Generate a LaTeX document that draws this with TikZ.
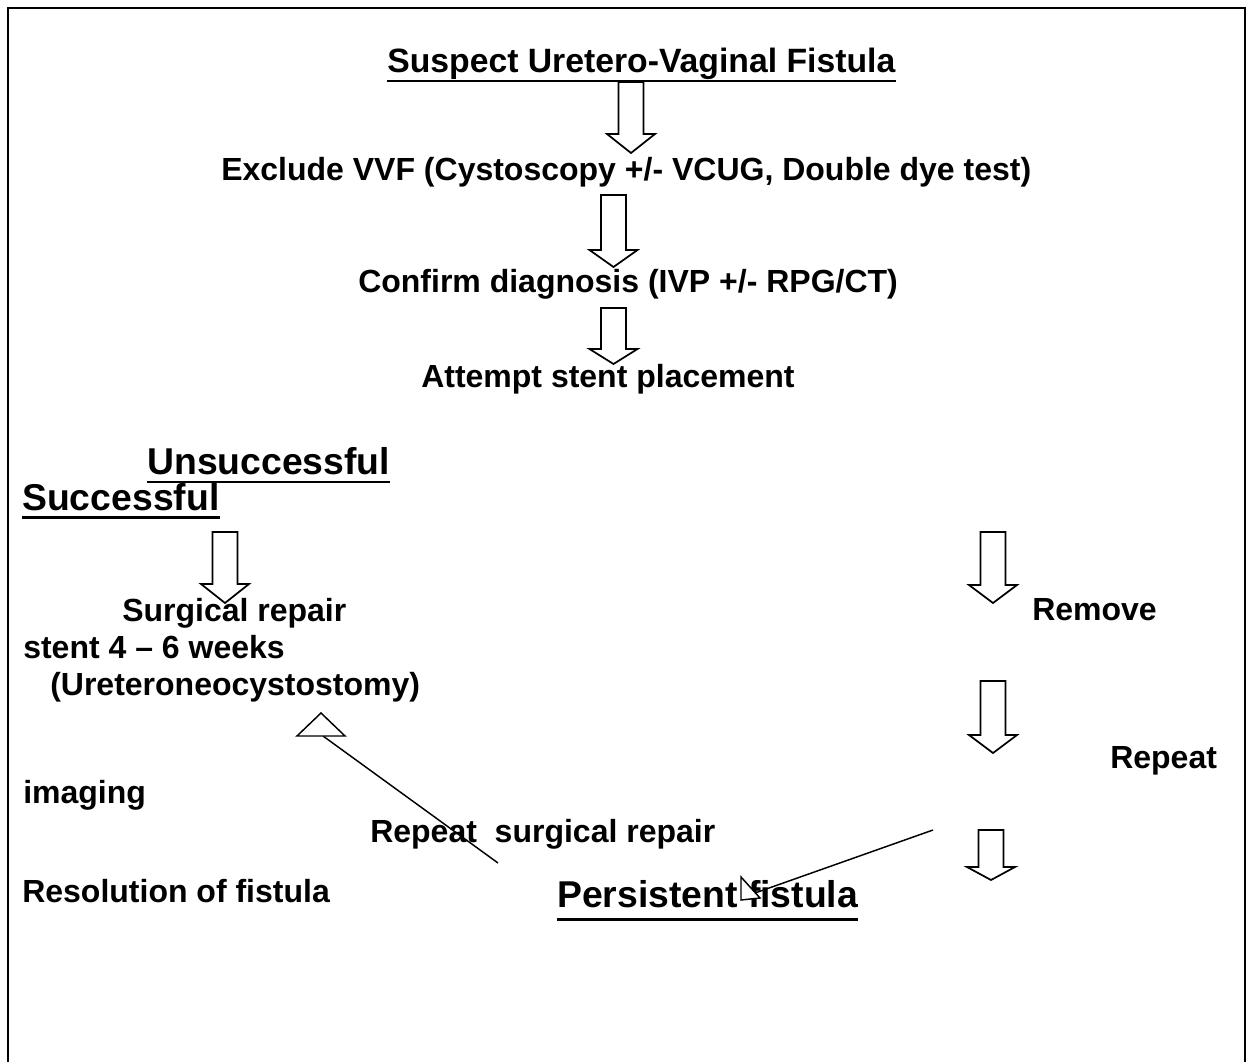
\documentclass[tikz,border=0pt]{standalone}
\usepackage{fontspec}
\setmainfont{Liberation Sans}
\usetikzlibrary{positioning,calc}
\tikzset{
  txt/.style={anchor=base west, inner sep=0pt, font=\fontsize{24}{28}\selectfont\bfseries},
  ttl/.style={anchor=base west, inner sep=0pt, font=\fontsize{25.3}{30}\selectfont\bfseries},
  hdg/.style={anchor=base west, inner sep=0pt, font=\fontsize{28}{32}\selectfont\bfseries},
  uline/.style={line width=2.2pt},
  blk/.style={draw, line width=1.3pt, line join=miter},
  conn/.style={line width=1.1pt},
  tri/.style={draw, line width=1.1pt, fill=white, line join=miter}
}
% hollow down arrow: centre x, top, head base, tip
\newcommand{\blkarrow}[4]{%
  \draw[blk] (#1-12.5,#2) -- (#1+12.5,#2) -- (#1+12.5,#3) -- (#1+24,#3) -- (#1,#4)
    -- (#1-24,#3) -- (#1-12.5,#3) -- cycle;}
% underline of a node
\newcommand{\ulnode}[2]{%
  \draw[uline] ([yshift=-#2]#1.base west) -- ([yshift=-#2]#1.base east);}

\begin{document}
\begin{tikzpicture}[x=0.75pt, y=-0.75pt]
    \useasboundingbox (0,0) rectangle (1251,1062);

    % Frame
    \draw[line width=2.2pt] (8,1062) -- (8,8) -- (1245,8) -- (1245,1062);

    % Main column
    \node[ttl] (suspect) at (387,73) {Suspect Uretero-Vaginal Fistula};
    \ulnode{suspect}{6pt}
    \node[txt] (exclude) at (221,181) {Exclude VVF (Cystoscopy +/- VCUG, Double dye test)};
    \node[txt] (confirm) at (358,292) {Confirm diagnosis (IVP +/- RPG/CT)};
    \node[txt] (attempt) at (421,387) {Attempt stent placement};

    \blkarrow{631}{82}{134}{153}
    \blkarrow{613.5}{195}{250}{267}
    \blkarrow{613.5}{308}{349}{364}

    % Branch headings
    \node[hdg] (unsucc) at (147,474) {Unsuccessful};
    \ulnode{unsucc}{6pt}
    \node[hdg] (succ) at (22,510) {Successful};
    \ulnode{succ}{5.5pt}

    % Left branch
    \blkarrow{225}{532}{584}{603}
    \node[txt] (surg) at (122,621) {Surgical repair};
    \node[txt] (stent) at (23,658) {stent 4 -- 6 weeks};
    \node[txt] (uneo) at (50,695) {(Ureteroneocystostomy)};
    \node[txt] (imaging) at (23,803) {imaging};
    \node[txt] (resol) at (22,902) {Resolution of fistula};

    % Right branch
    \blkarrow{993}{532}{585}{603}
    \node[txt] (remove) at (1032,620) {Remove};
    \blkarrow{993}{681}{735}{753}
    \node[txt] (repeat) at (1110,768) {Repeat};
    \blkarrow{991}{830}{867}{880}

    % Persistent fistula
    \node[txt] (rsurg) at (370,842) {Repeat\ \ surgical repair};
    \node[hdg] (persist) at (557,907) {Persistent fistula};
    \ulnode{persist}{9.5pt}

    % Connectors
    \coordinate (rs1) at (498,863);
    \coordinate (rs2) at (323,736);
    \draw[conn] (rs1) -- (rs2);
    \draw[tri] (321,713) -- (345,736) -- (297,736) -- cycle;

    \coordinate (pf1) at (933,830);
    \coordinate (pf2) at (755,893);
    \draw[conn] (pf1) -- (pf2);
    \draw[tri] (741,877) -- (760,898) -- (741,900) -- cycle;
\end{tikzpicture}
\end{document}
